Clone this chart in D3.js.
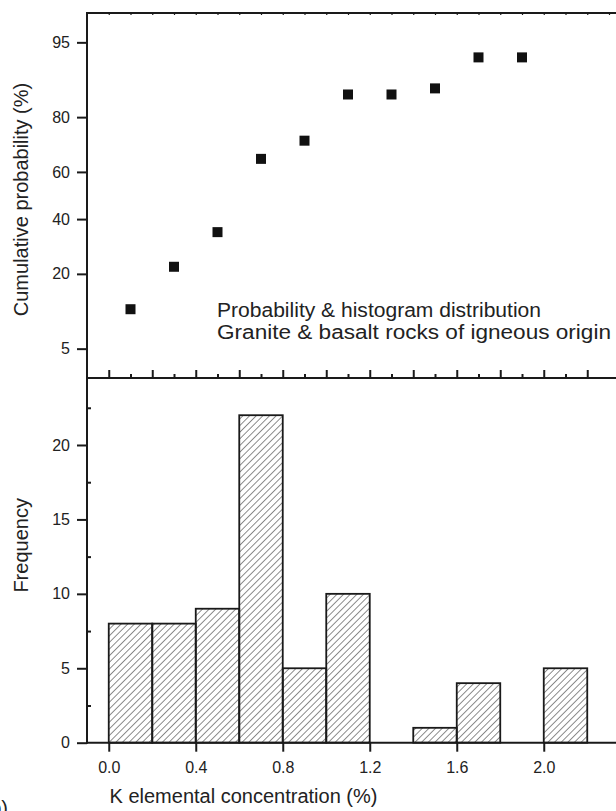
<!DOCTYPE html>
<html>
<head>
<meta charset="utf-8">
<script src="https://cdn.jsdelivr.net/npm/d3@7"></script>
<style>
  html, body { margin: 0; padding: 0; background: #fff; }
  svg { display: block; font-family: "Liberation Sans", Arial, sans-serif; }
</style>
</head>
<body>
<div id="chart"></div>
<script>
// ---- Data ----
const binStarts = [0.0, 0.2, 0.4, 0.6, 0.8, 1.0, 1.2, 1.4, 1.6, 1.8, 2.0];
const binWidth = 0.2;
const frequency = [8, 8, 9, 22, 5, 10, 0, 1, 4, 0, 5];

const cumX = [0.1, 0.3, 0.5, 0.7, 0.9, 1.1, 1.3, 1.5, 1.7, 1.9];
const cumProb = [11.1, 22.2, 34.7, 65.3, 72.2, 86.1, 86.1, 87.5, 93.1, 93.1];

const probTicks = [5, 20, 40, 60, 80, 95];
const freqTicks = [0, 5, 10, 15, 20];
const freqMinor = [2.5, 7.5, 12.5, 17.5, 22.5];
const xTicks = [0.0, 0.4, 0.8, 1.2, 1.6, 2.0];

const noteLines = [
  "Probability & histogram distribution",
  "Granite & basalt rocks of igneous origin"
];
const noteWidths = [324, 394];

// inverse normal CDF (Acklam) for the probability axis
function probit(p) {
  const a = [-39.69683028665376, 220.9460984245205, -275.9285104469687, 138.3577518672690, -30.66479806614716, 2.506628277459239];
  const b = [-54.47609879822406, 161.5858368580409, -155.6989798598866, 66.80131188771972, -13.28068155288572];
  const c = [-0.007784894002430293, -0.3223964580411365, -2.400758277161838, -2.549732539343734, 4.374664141464968, 2.938163982698783];
  const d = [0.007784695709041462, 0.3224671290700398, 2.445134137142996, 3.754408661907416];
  const lo = 0.02425, hi = 1 - lo;
  let q, r;
  if (p < lo) {
    q = Math.sqrt(-2 * Math.log(p));
    return (((((c[0]*q+c[1])*q+c[2])*q+c[3])*q+c[4])*q+c[5]) / ((((d[0]*q+d[1])*q+d[2])*q+d[3])*q+1);
  }
  if (p > hi) {
    q = Math.sqrt(-2 * Math.log(1 - p));
    return -(((((c[0]*q+c[1])*q+c[2])*q+c[3])*q+c[4])*q+c[5]) / ((((d[0]*q+d[1])*q+d[2])*q+d[3])*q+1);
  }
  q = p - 0.5;
  r = q * q;
  return (((((a[0]*r+a[1])*r+a[2])*r+a[3])*r+a[4])*r+a[5])*q / (((((b[0]*r+b[1])*r+b[2])*r+b[3])*r+b[4])*r+1);
}

// ---- Layout ----
const width = 616, height = 811;
const plotLeft = 87, plotTop = 13, plotMid = 378, plotBottom = 742.7;
const ink = "#1a1a1a";

const x = d3.scaleLinear([-0.1, 2.4], [plotLeft, plotLeft + 2.5 * 217.5]);
const yTop = d3.scaleLinear([probit(0.025), probit(0.975)], [plotMid, plotTop]);
const yBot = d3.scaleLinear([0, 24.5], [plotBottom, plotMid]);

const svg = d3.select("#chart")
  .append("svg")
  .attr("width", width)
  .attr("height", height);

// hatch for the histogram bars
svg.append("defs").append("pattern")
  .attr("id", "hatch")
  .attr("patternUnits", "userSpaceOnUse")
  .attr("width", 4.7)
  .attr("height", 10)
  .attr("patternTransform", "rotate(45)")
  .append("line")
  .attr("x1", 0).attr("y1", 0)
  .attr("x2", 0).attr("y2", 10)
  .attr("stroke", ink)
  .attr("stroke-width", 1);

// ---- Histogram (bottom panel) ----
svg.append("g")
  .selectAll("rect")
  .data(binStarts.map((s, i) => ({ s, f: frequency[i] })).filter(d => d.f > 0))
  .join("rect")
  .attr("x", d => x(d.s))
  .attr("y", d => yBot(d.f))
  .attr("width", d => x(d.s + binWidth) - x(d.s))
  .attr("height", d => yBot(0) - yBot(d.f))
  .attr("fill", "url(#hatch)")
  .attr("stroke", ink)
  .attr("stroke-width", 1.8);

// ---- Cumulative probability points (top panel) ----
const sq = 10;
svg.append("g")
  .selectAll("rect")
  .data(cumX.map((v, i) => ({ v, p: cumProb[i] })))
  .join("rect")
  .attr("x", d => x(d.v) - sq / 2)
  .attr("y", d => yTop(probit(d.p / 100)) - sq / 2)
  .attr("width", sq)
  .attr("height", sq)
  .attr("fill", "#111");

// ---- Axes ----
function styleAxis(g, fontSize) {
  g.select(".domain").remove();
  g.selectAll(".tick line").attr("stroke", ink).attr("stroke-width", 2);
  g.selectAll(".tick text").attr("fill", "#222").attr("font-size", fontSize).attr("font-family", null);
}

// top panel left: probability
svg.append("g")
  .attr("transform", `translate(${plotLeft},0)`)
  .call(d3.axisLeft(yTop)
    .tickValues(probTicks.map(p => probit(p / 100)))
    .tickFormat((d, i) => probTicks[i])
    .tickSizeInner(10).tickSizeOuter(0).tickPadding(7))
  .call(g => styleAxis(g, 16));

// top panel bottom (divider): inward ticks
svg.append("g")
  .attr("transform", `translate(0,${plotMid})`)
  .call(d3.axisTop(x).tickValues(d3.range(0, 23).map(i => i * 0.1))
    .tickSizeInner(1).tickSizeOuter(0).tickFormat(""))
  .call(g => {
    styleAxis(g, 16);
    g.selectAll(".tick line").attr("y2", (d, i) => i % 2 === 0 ? -8 : -4);
  });

// top frame: tiny inward ticks
svg.append("g")
  .attr("transform", `translate(0,${plotTop})`)
  .call(d3.axisBottom(x).tickValues(d3.range(0, 24).map(i => i * 0.1))
    .tickSizeInner(2).tickSizeOuter(0).tickFormat(""))
  .call(g => { styleAxis(g, 16); g.selectAll(".tick line").attr("stroke-width", 1.2); });

// bottom panel left: frequency
svg.append("g")
  .attr("transform", `translate(${plotLeft},0)`)
  .call(d3.axisLeft(yBot).tickValues(freqTicks)
    .tickSizeInner(10).tickSizeOuter(0).tickPadding(7))
  .call(g => styleAxis(g, 16));

svg.append("g")
  .attr("transform", `translate(${plotLeft},0)`)
  .call(d3.axisRight(yBot).tickValues(freqMinor)
    .tickSizeInner(4).tickSizeOuter(0).tickFormat(""))
  .call(g => styleAxis(g, 16));

// bottom panel x axis
svg.append("g")
  .attr("transform", `translate(0,${plotBottom})`)
  .call(d3.axisBottom(x).tickValues(xTicks)
    .tickFormat(d3.format(".1f"))
    .tickSizeInner(9).tickSizeOuter(0).tickPadding(10))
  .call(g => styleAxis(g, 16));

// frame lines
const frame = svg.append("g").attr("stroke", ink).attr("stroke-width", 2).attr("fill", "none");
frame.append("line").attr("x1", plotLeft).attr("x2", width).attr("y1", plotTop).attr("y2", plotTop);
frame.append("line").attr("x1", plotLeft).attr("x2", width).attr("y1", plotMid).attr("y2", plotMid);
frame.append("line").attr("x1", plotLeft).attr("x2", width).attr("y1", plotBottom).attr("y2", plotBottom);
frame.append("line").attr("x1", plotLeft).attr("x2", plotLeft).attr("y1", plotTop - 1).attr("y2", plotBottom + 1);

// ---- Titles ----
svg.append("text")
  .attr("transform", `translate(28,${(plotTop + plotMid) / 2 + 4}) rotate(-90)`)
  .attr("text-anchor", "middle")
  .attr("font-size", 20)
  .attr("fill", "#222")
  .text("Cumulative probability (%)");

svg.append("text")
  .attr("transform", `translate(28,${(plotMid + plotBottom) / 2 - 15}) rotate(-90)`)
  .attr("text-anchor", "middle")
  .attr("font-size", 20)
  .attr("fill", "#222")
  .text("Frequency");

svg.append("text")
  .attr("x", 243.5)
  .attr("y", 803)
  .attr("text-anchor", "middle")
  .attr("font-size", 20)
  .attr("fill", "#222")
  .text("K elemental concentration (%)");

svg.append("g")
  .selectAll("text")
  .data(noteLines)
  .join("text")
  .attr("x", 217)
  .attr("y", (d, i) => 317 + i * 22)
  .attr("font-size", 19.5)
  .attr("textLength", (d, i) => noteWidths[i])
  .attr("lengthAdjust", "spacingAndGlyphs")
  .attr("fill", "#222")
  .text(d => d);

// panel label, cut by the lower-left edge as in the source figure
svg.append("text")
  .attr("x", 8)
  .attr("y", 815)
  .attr("text-anchor", "end")
  .attr("font-size", 20)
  .attr("fill", "#222")
  .text("(b)");
</script>
</body>
</html>
